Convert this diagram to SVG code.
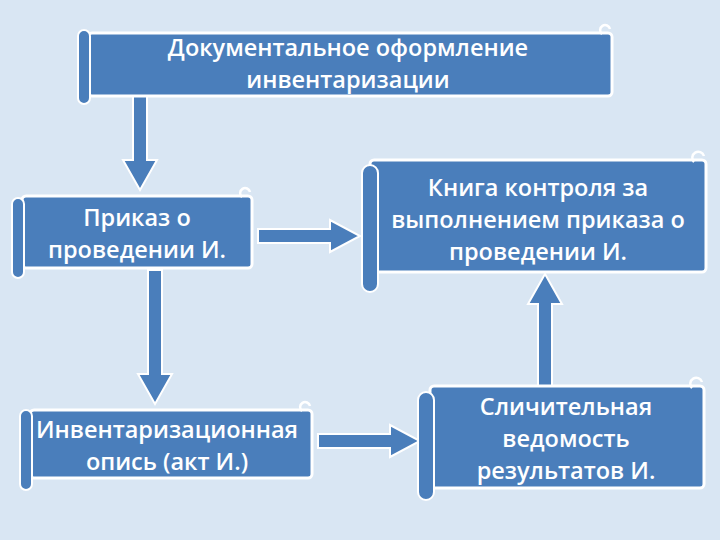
<svg xmlns="http://www.w3.org/2000/svg" width="720" height="540" viewBox="0 0 720 540">
<style>
.box{fill:#4a7ebb;stroke:#fff;stroke-width:3}
.bar{fill:#4a7ebb;stroke:#fff;stroke-width:2}
.curl{fill:none;stroke:#fff;stroke-width:2.5}
.t{font-family:"Open Sans","DejaVu Sans",sans-serif;font-size:23.5px;font-weight:600;fill:#fff;text-anchor:middle}
.ar{fill:#4a7ebb;stroke:#fff;stroke-width:2}
</style>
<rect width="720" height="540" fill="#d9e6f3"/>
<g id="connectors">
<polygon class="ar" points="133,96 147,96 147,160 157,160 140,190 123,160 133,160"/>
<polygon class="ar" points="258,229 330,229 330,220 360,236 330,252 330,243 258,243"/>
<polygon class="ar" points="148,270 162,270 162,374 172,374 155,404 138,374 148,374"/>
<polygon class="ar" points="318,434 390,434 390,425 420,441 390,457 390,448 318,448"/>
<polygon class="ar" points="538,386 552,386 552,304 562,304 545,274 528,304 538,304"/>
</g>
<g id="n1">
<rect class="box" x="88" y="33" width="524" height="63" rx="4"/>
<rect class="bar" x="78" y="30" width="12" height="74" rx="6"/>
<path class="curl" d="M602,34 a5,5 0 1 1 8,-5"/>
<text class="t" x="348" y="56">Документальное оформление</text>
<text class="t" x="348" y="88">инвентаризации</text>
</g>
<g id="n2">
<rect class="box" x="22" y="196" width="230" height="72" rx="4"/>
<rect class="bar" x="12" y="198" width="12" height="80" rx="6"/>
<path class="curl" d="M242,197 a5,5 0 1 1 8,-5"/>
<text class="t" x="137" y="226">Приказ о</text>
<text class="t" x="137" y="258">проведении И.</text>
</g>
<g id="n3">
<rect class="box" x="370" y="160" width="336" height="112" rx="4"/>
<rect class="bar" x="362" y="165" width="16" height="127" rx="8"/>
<path class="curl" d="M694,162 a6,6 0 1 1 10,-6"/>
<text class="t" x="538" y="196">Книга контроля за</text>
<text class="t" x="538" y="228">выполнением приказа о</text>
<text class="t" x="538" y="260">проведении И.</text>
</g>
<g id="n4">
<rect class="box" x="30" y="410" width="282" height="68" rx="4"/>
<rect class="bar" x="20" y="410" width="12" height="80" rx="6"/>
<path class="curl" d="M302,411 a5,5 0 1 1 8,-5"/>
<text class="t" x="167" y="438">Инвентаризационная</text>
<text class="t" x="167" y="470">опись (акт И.)</text>
</g>
<g id="n5">
<rect class="box" x="430" y="386" width="274" height="102" rx="4"/>
<rect class="bar" x="418" y="392" width="16" height="108" rx="8"/>
<path class="curl" d="M692,388 a6,6 0 1 1 10,-6"/>
<text class="t" x="566" y="415">Сличительная</text>
<text class="t" x="566" y="447">ведомость</text>
<text class="t" x="566" y="479">результатов И.</text>
</g>
</svg>
